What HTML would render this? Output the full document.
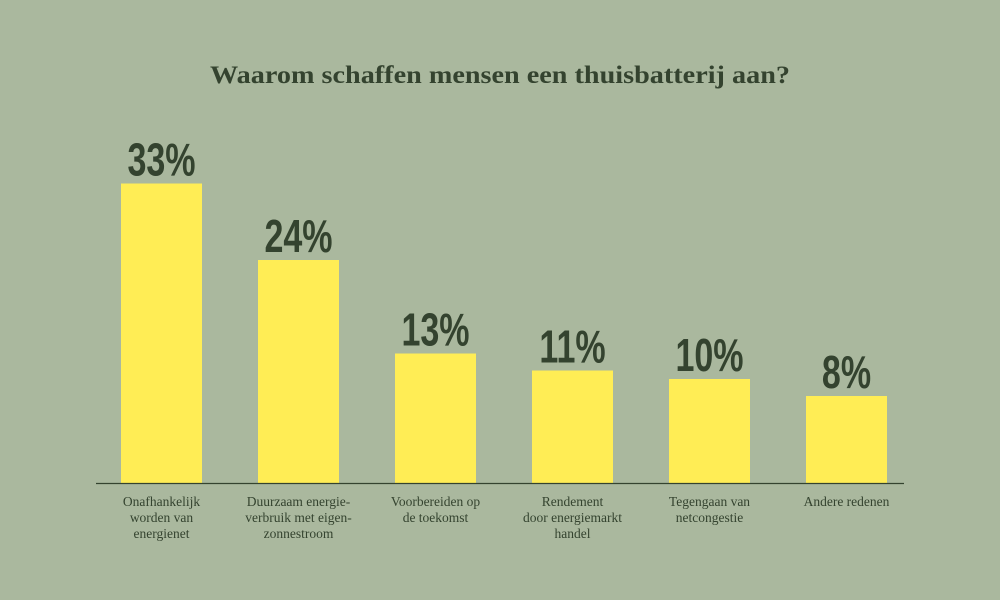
<!DOCTYPE html>
<html><head><meta charset="utf-8"><style>
html,body{margin:0;padding:0;background:#aab89e;}
svg{display:block;}
</style></head><body>
<svg width="1000" height="600" viewBox="0 0 1000 600">
<rect width="1000" height="600" fill="#aab89e"/>
<text x="210" y="83" textLength="580" lengthAdjust="spacingAndGlyphs" font-family="Liberation Serif, serif" font-weight="bold" font-size="25" fill="#34432f">Waarom schaffen mensen een thuisbatterij aan?</text>
<g id="bars"></g>
<line x1="96" y1="483.5" x2="904" y2="483.5" stroke="#34432f" stroke-width="1.2"/>
</svg>
<script>
const categories = [
  ["Onafhankelijk","worden van","energienet"],
  ["Duurzaam energie-","verbruik met eigen-","zonnestroom"],
  ["Voorbereiden op","de toekomst"],
  ["Rendement","door energiemarkt","handel"],
  ["Tegengaan van","netcongestie"],
  ["Andere redenen"]
];
const values = [33, 24, 13, 11, 10, 8];
const valueLabels = ["33%", "24%", "13%", "11%", "10%", "8%"];

const NS = "http://www.w3.org/2000/svg";
const g = document.getElementById("bars");
const baseline = 483;
function yScale(v){ return baseline - (19 + 8.5 * v); }
function xScale(i){ return 121 + i * 137; }
const bw = 81;
values.forEach((v, i) => {
  const x = xScale(i), y = yScale(v);
  const r = document.createElementNS(NS, "rect");
  r.setAttribute("x", x); r.setAttribute("y", y);
  r.setAttribute("width", bw); r.setAttribute("height", baseline - y);
  r.setAttribute("fill", "#ffed55");
  
  
  g.appendChild(r);
  const t = document.createElementNS(NS, "text");
  t.setAttribute("x", 0); t.setAttribute("y", 0);
  t.setAttribute("transform", "translate(" + (x + bw / 2) + "," + (y - 8) + ") scale(0.74,1)");
  t.setAttribute("text-anchor", "middle");
  t.setAttribute("font-family", "Liberation Sans, sans-serif");
  t.setAttribute("font-weight", "bold");
  t.setAttribute("font-size", "46");
  t.setAttribute("fill", "#34432f");
  t.textContent = valueLabels[i];
  
  
  g.appendChild(t);
  const c = document.createElementNS(NS, "text");
  c.setAttribute("text-anchor", "middle");
  c.setAttribute("font-family", "Liberation Serif, serif");
  c.setAttribute("font-size", "13.5");
  c.setAttribute("fill", "#34432f");
  
  
  categories[i].forEach((line, k) => {
    const s = document.createElementNS(NS, "tspan");
    s.setAttribute("x", x + bw / 2);
    s.setAttribute("y", 506 + k * 16);
    s.textContent = line;
    c.appendChild(s);
  });
  g.appendChild(c);
});
</script>
</body></html>
